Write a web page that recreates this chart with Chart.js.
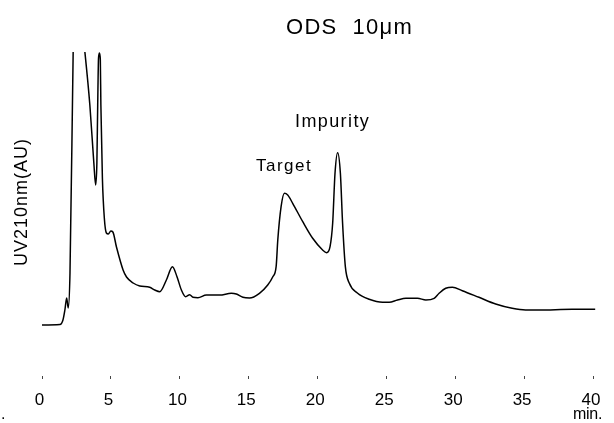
<!DOCTYPE html>
<html>
<head>
<meta charset="utf-8">
<script src="https://cdn.jsdelivr.net/npm/chart.js@4.4.1/dist/chart.umd.min.js"></script>
<style>
  html, body { margin: 0; padding: 0; background: #ffffff; }
  #wrap { width: 614px; height: 423px; position: relative; }
</style>
</head>
<body>
<div id="wrap"><canvas id="c" width="614" height="423"></canvas></div>
<script>
// Retention time (min)
const time = [0, 1.30, 1.52, 1.66, 1.79, 1.90, 2.03, 2.26, 2.34, 2.42, 2.53, 2.75, 3.11, 3.47, 3.76, 3.89,
  3.98, 4.04, 4.10, 4.17, 4.23, 4.27, 4.38, 4.52, 4.67, 4.81, 4.99, 5.14, 5.40, 5.88, 6.13, 6.61, 7.09,
  7.81, 8.18, 8.54, 9.02, 9.46, 9.79, 10.11, 10.42, 10.71, 10.95, 11.31, 11.92, 12.88, 13.73, 14.09,
  14.57, 15.05, 15.77, 16.37, 16.74, 16.98, 17.10, 17.34, 17.58, 17.82, 18.18, 18.91, 19.63, 20.35,
  20.64, 20.89, 21.08, 21.25, 21.44, 21.64, 21.80, 22.00, 22.29, 22.87, 23.73, 24.70, 25.18, 25.78,
  26.39, 27.23, 27.84, 28.44, 28.80, 29.28, 29.76, 30.48, 31.69, 32.90, 34.10, 35.07, 36.03, 38.44, 40.12];
// UV 210 nm absorbance (arbitrary units)
const signal = [51, 51.5, 56, 66, 78, 68, 103, 324, 388, 408, 403, 368, 324, 271, 213, 191,
  213, 271, 318, 323, 316, 271, 198, 158, 143, 142, 145, 144, 129, 106, 99, 93, 90,
  88.7, 86, 84.3, 96, 109.3, 99.3, 86, 79.3, 81.3, 78.7, 78.3, 81, 81, 82.7, 82,
  78.7, 78, 82.7, 91, 99.3, 109.3, 136, 169.3, 182.7, 181, 172.7, 154.3, 137.7, 126,
  123.3, 129.3, 152.7, 202.7, 223.3, 202.7, 152.7, 109.3, 92.7, 83, 76.7, 73.7, 73.7, 76,
  77.7, 77.7, 76, 77.7, 82.7, 87.7, 88.7, 85.3, 78.7, 72, 67.7, 66, 66, 66.7, 66.7];
const xTicks = [0, 5, 10, 15, 20, 25, 30, 35, 40];
const titleText = 'ODS  10μm';
const yLabel = 'UV210nm(AU)';
const xUnit = 'min.';
const peakLabels = ['Target', 'Impurity'];

const FONT = '"Liberation Sans", Arial, Helvetica, sans-serif';

const textPlugin = {
  id: 'texts',
  afterDraw(chart) {
    const ctx = chart.ctx;
    ctx.save();
    ctx.fillStyle = '#000';
    ctx.textBaseline = 'alphabetic';
    ctx.textAlign = 'left';
    ctx.letterSpacing = '1.3px';
    ctx.font = '22px ' + FONT;
    ctx.fillText(titleText, 286, 34);
    ctx.font = '18px ' + FONT;
    ctx.letterSpacing = '1.4px';
    ctx.fillText(peakLabels[1], 295, 127);
    ctx.font = '17px ' + FONT;
    ctx.letterSpacing = '1.5px';
    ctx.fillText(peakLabels[0], 256, 171);
    ctx.letterSpacing = '-0.3px';
    ctx.font = '16px ' + FONT;
    ctx.fillText(xUnit, 573, 419);
    ctx.fillText('.', 1, 419);
    // y-axis label, rotated
    ctx.save();
    ctx.translate(27, 202);
    ctx.rotate(-Math.PI / 2);
    ctx.textAlign = 'center';
    ctx.letterSpacing = '1px';
    ctx.font = '18px ' + FONT;
    ctx.fillText(yLabel, 0, 0);
    ctx.restore();
    ctx.restore();
  }
};

new Chart(document.getElementById('c'), {
  type: 'line',
  data: {
    datasets: [{
      data: time.map((t, i) => ({ x: t, y: signal[i] })),
      borderColor: '#000',
      borderWidth: 1.5,
      pointRadius: 0,
      fill: false,
      cubicInterpolationMode: 'monotone',
      clip: { left: 5, top: 0, right: 5, bottom: 5 }
    }]
  },
  options: {
    responsive: false,
    animation: false,
    layout: { padding: { left: 42, right: 17.5, top: 52, bottom: 1.6 } },
    plugins: { legend: { display: false }, tooltip: { enabled: false }, title: { display: false } },
    scales: {
      x: {
        type: 'linear',
        min: 0,
        max: 40,
        afterBuildTicks: (axis) => { axis.ticks = xTicks.map(v => ({ value: v })); },
        border: { display: false },
        grid: { display: true, drawOnChartArea: false, drawTicks: true, tickLength: 3, color: '#444', lineWidth: 1 },
        ticks: { color: '#000', font: { family: FONT, size: 17 }, padding: 11, labelOffset: -2.5, maxRotation: 0, autoSkip: false }
      },
      y: {
        display: false,
        min: 0,
        max: 324
      }
    }
  },
  plugins: [textPlugin]
});
</script>
</body>
</html>
